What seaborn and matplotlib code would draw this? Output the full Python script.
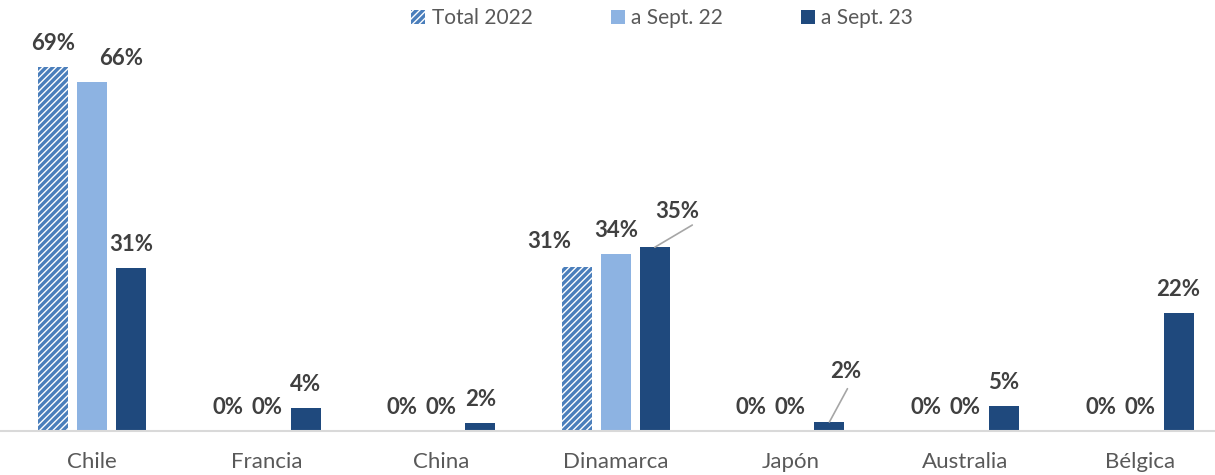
import matplotlib
matplotlib.use("Agg")
import matplotlib.pyplot as plt
from matplotlib.patches import Patch
import pandas as pd
import seaborn as sns

# Data
paises = ["Chile", "Francia", "China", "Dinamarca", "Japón", "Australia", "Bélgica"]
series = ["Total 2022", "a Sept. 22", "a Sept. 23"]
total_2022 = [68.9, 0, 0, 31.0, 0, 0, 0]
sept_22 = [66.1, 0, 0, 33.6, 0, 0, 0]
sept_23 = [30.9, 4.4, 1.6, 34.8, 1.7, 4.8, 22.3]

colores = {"Total 2022": "#4A7EBB", "a Sept. 22": "#8DB3E2", "a Sept. 23": "#1F497D"}

df = pd.DataFrame({
    "pais": paises * 3,
    "serie": [s for s in series for _ in paises],
    "valor": total_2022 + sept_22 + sept_23,
})

sns.set_theme(style="white")
plt.rcParams["font.family"] = ["Lato", "DejaVu Sans"]
plt.rcParams["hatch.linewidth"] = 2.4

fig = plt.figure(figsize=(12.15, 4.75), dpi=100)
ax = fig.add_axes([0, 44 / 475, 1, 431 / 475])

sns.barplot(data=df, x="pais", y="valor", hue="serie", hue_order=series,
            palette=colores, saturation=1, width=0.67, gap=0.23, errorbar=None,
            legend=False, ax=ax, linewidth=0)

# Hatched pattern for the 2022 totals
for bar in ax.containers[0]:
    bar.set_facecolor("white")
    bar.set_edgecolor(colores["Total 2022"])
    bar.set_hatch("/////")
    bar.set_linewidth(0)

ax.set_xlim(-92 / 174.6, (1215 - 92) / 174.6)
ax.set_ylim(0, 431 / 5.28)

# Axes styling
for side in ["top", "right", "left"]:
    ax.spines[side].set_visible(False)
ax.spines["bottom"].set_color("#D9D9D9")
ax.spines["bottom"].set_linewidth(1.5)
ax.set_xlabel("")
ax.set_ylabel("")
ax.set_yticks([])
ax.tick_params(axis="x", length=0, pad=15, labelsize=16, labelcolor="#595959")

# Value labels (a few are nudged sideways to keep them apart)
label_style = dict(ha="center", va="baseline", fontsize=16, fontweight="bold",
                   color="#404040", textcoords="offset points")
custom = {
    (1, 0): (21, 12.2),
    (0, 3): (-20, 13.7),
    (2, 3): (16.5, 21),
    (2, 4): (12, 31.7),
}
leaders = {
    (2, 3): (27, 16),
    (2, 4): (13, 24),
}
for si, container in enumerate(ax.containers):
    for pi, bar in enumerate(container):
        v = bar.get_height()
        x = bar.get_x() + bar.get_width() / 2
        off = custom.get((si, pi), (0, 12.2))
        ax.annotate(f"{v:.0f}%", (x, v), xytext=off, **label_style)
        if (si, pi) in leaders:
            ax.annotate("", (x, v), xytext=leaders[(si, pi)],
                        textcoords="offset points",
                        arrowprops=dict(arrowstyle="-", color="#A6A6A6", lw=1.2,
                                        shrinkA=0, shrinkB=0))

# Legend
handles = []
for s in series:
    if s == "Total 2022":
        handles.append(Patch(facecolor="white", edgecolor=colores[s], hatch="/////",
                             linewidth=0, label=s))
    else:
        handles.append(Patch(facecolor=colores[s], linewidth=0, label=s))
fig.legend(handles=handles, loc="center", bbox_to_anchor=(0.545, 0.962), ncol=3,
           frameon=False, fontsize=15, labelcolor="#595959", handlelength=0.67,
           handleheight=0.67, handletextpad=0.3, columnspacing=3.75)

fig.savefig("out.png", dpi=100)
